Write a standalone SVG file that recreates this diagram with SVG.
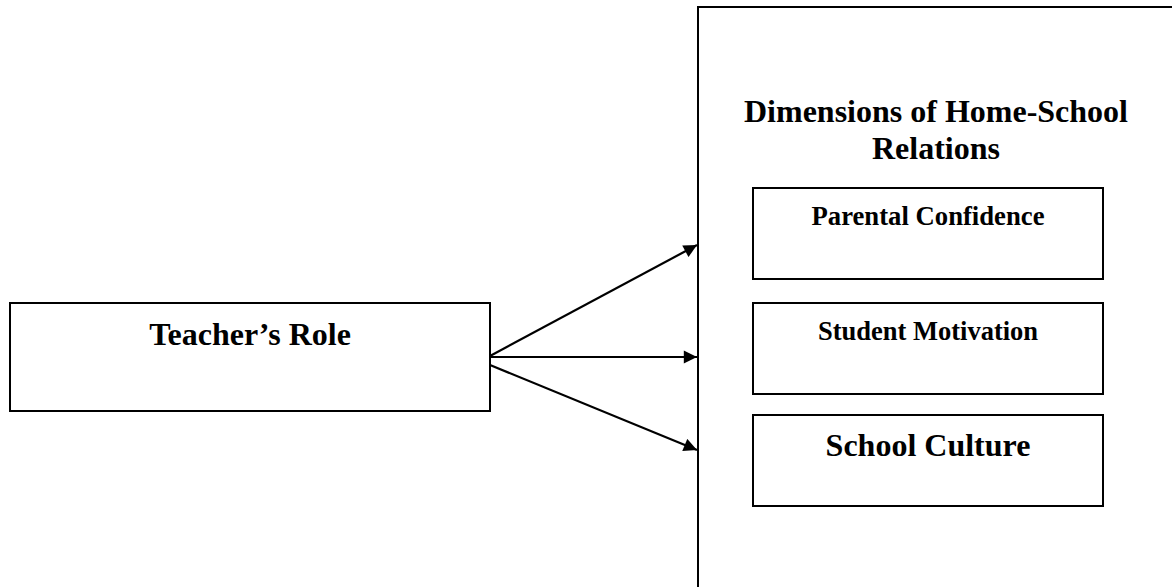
<svg xmlns="http://www.w3.org/2000/svg" width="1172" height="587" viewBox="0 0 1172 587">
<style>
.box{fill:#fff;stroke:#000;stroke-width:2}
.t{font-family:"Liberation Serif","Times New Roman",serif;font-weight:bold;fill:#000;text-anchor:middle}
.c{stroke:#000;stroke-width:2.2;fill:none}
</style>
<defs>
<marker id="ah" viewBox="0 0 10 10" refX="10" refY="5" markerWidth="6.8" markerHeight="6" orient="auto" markerUnits="strokeWidth">
<path d="M0,0 L10,5 L0,10 z" fill="#000"/>
</marker>
</defs>
<rect width="1172" height="587" fill="#fff"/>
<g id="dimensions">
<rect class="box" x="698" y="7" width="500" height="600"/>
<text class="t" x="936" y="122" font-size="32">Dimensions of Home-School</text>
<text class="t" x="936" y="159" font-size="32">Relations</text>
</g>
<g id="teachers-role">
<rect class="box" x="10" y="303" width="480" height="108"/>
<text class="t" x="250" y="345" font-size="32">Teacher’s Role</text>
</g>
<g id="parental-confidence">
<rect class="box" x="753" y="188" width="350" height="91"/>
<text class="t" x="928" y="225" font-size="26.7">Parental Confidence</text>
</g>
<g id="student-motivation">
<rect class="box" x="753" y="303" width="350" height="91"/>
<text class="t" x="928" y="340" font-size="26.5">Student Motivation</text>
</g>
<g id="school-culture">
<rect class="box" x="753" y="415" width="350" height="91"/>
<text class="t" x="928" y="456" font-size="32">School Culture</text>
</g>
<g id="connectors">
<line class="c" x1="490" y1="356" x2="697" y2="245" marker-end="url(#ah)"/>
<line class="c" x1="490" y1="357" x2="697" y2="357" marker-end="url(#ah)"/>
<line class="c" x1="490" y1="365" x2="697" y2="450" marker-end="url(#ah)"/>
</g>
</svg>
